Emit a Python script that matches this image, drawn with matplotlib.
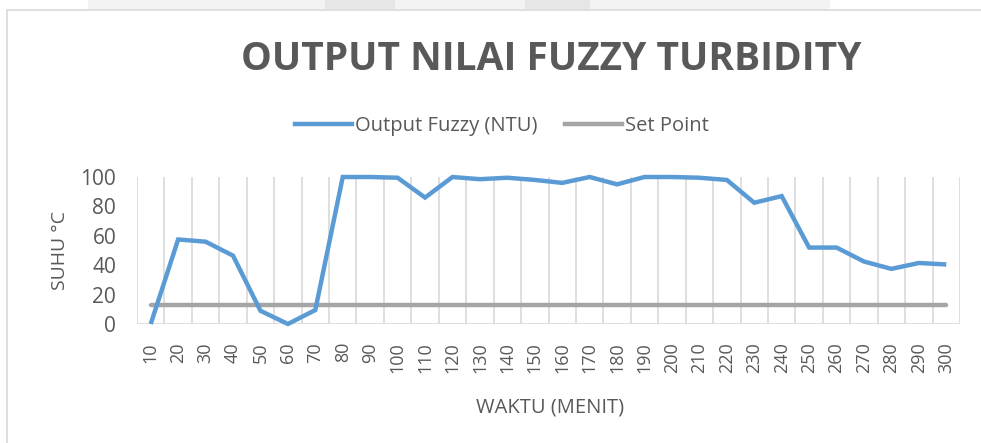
import matplotlib
matplotlib.use("Agg")
from matplotlib import pyplot as plt
from matplotlib.patches import Rectangle
from matplotlib.lines import Line2D
import numpy as np

# data
waktu = [10, 20, 30, 40, 50, 60, 70, 80, 90, 100,
         110, 120, 130, 140, 150, 160, 170, 180, 190, 200,
         210, 220, 230, 240, 250, 260, 270, 280, 290, 300]
output_fuzzy = [0, 57.5, 56, 46.5, 9, 0, 9.5, 100, 100, 99.5,
                86, 100, 98.5, 99.5, 98, 96, 100, 95, 100, 100,
                99.5, 98, 82.5, 87, 52, 52, 42.5, 37.5, 41.5, 40.5]
set_point = [13] * len(waktu)

teks = "#595959"
garis = "#d9d9d9"
biru = "#5b9bd5"
abu = "#a5a5a5"

plt.rcParams["font.family"] = ["Open Sans", "DejaVu Sans"]

fig = plt.figure(figsize=(9.81, 4.43), dpi=100)

# bingkai chart dan bayangan di atas
fig.patches.append(Rectangle((7 / 981, -0.1), 1.1, 1 - 10 / 443 + 0.1,
                             transform=fig.transFigure, fill=False,
                             edgecolor=garis, linewidth=1.2))
fig.patches.append(Rectangle((88 / 981, 1 - 9 / 443), 742 / 981, 9 / 443,
                             transform=fig.transFigure, facecolor="#f3f3f3",
                             edgecolor="none"))
for x0, w in [(325, 70), (525, 65)]:
    fig.patches.append(Rectangle((x0 / 981, 1 - 9 / 443), w / 981, 9 / 443,
                                 transform=fig.transFigure, facecolor="#e6e6e6",
                                 edgecolor="none"))

ax = fig.add_axes([137 / 981, 1 - 324 / 443, (960 - 137) / 981, (324 - 177) / 443])

x = np.arange(len(waktu))
ax.plot(x, set_point, color=abu, linewidth=3.2, solid_capstyle="round", zorder=3)
ax.plot(x, output_fuzzy, color=biru, linewidth=3.2, solid_capstyle="butt",
        solid_joinstyle="miter", zorder=4, clip_on=False)

ax.set_xlim(-0.5, len(waktu) - 0.5)
ax.set_ylim(0, 100)
for b in np.arange(-0.5, len(waktu), 1.0):
    ax.axvline(b, color=garis, linewidth=1.2, zorder=1)

for s in ax.spines.values():
    s.set_visible(False)
ax.axhline(0, color=garis, linewidth=1.2, zorder=2)

ax.set_xticks(x)
ax.set_xticklabels([str(w) for w in waktu], rotation=90, va="top", ha="center",
                   fontsize=13, color=teks)
ax.set_yticks([0, 20, 40, 60, 80, 100])
ax.set_yticklabels(["0", "20", "40", "60", "80", "100"], fontsize=15, color=teks)
ax.tick_params(axis="both", length=0)
ax.tick_params(axis="y", pad=15)
ax.tick_params(axis="x", pad=13)

fig.text(60 / 981, 1 - 251 / 443, "SUHU °C", rotation=90, ha="center", va="center",
         fontsize=14, color=teks)
fig.text(550 / 981, 1 - 408 / 443, "WAKTU (MENIT)", ha="center", va="center",
         fontsize=14.5, color=teks)
fig.text(551 / 981, 1 - 60 / 443, "OUTPUT NILAI FUZZY TURBIDITY", ha="center",
         va="center", fontsize=28, fontweight="bold", color=teks)

handles = [Line2D([], [], color=biru, linewidth=3.2),
           Line2D([], [], color=abu, linewidth=3.2)]
fig.legend(handles, ["Output Fuzzy (NTU)", "Set Point"], loc="center",
           bbox_to_anchor=(502 / 981, 1 - 126 / 443), ncol=2, frameon=False,
           fontsize=14.5, handlelength=2.8, handletextpad=0.15, columnspacing=1.4,
           labelcolor=teks)

fig.savefig("out.png", dpi=100)
